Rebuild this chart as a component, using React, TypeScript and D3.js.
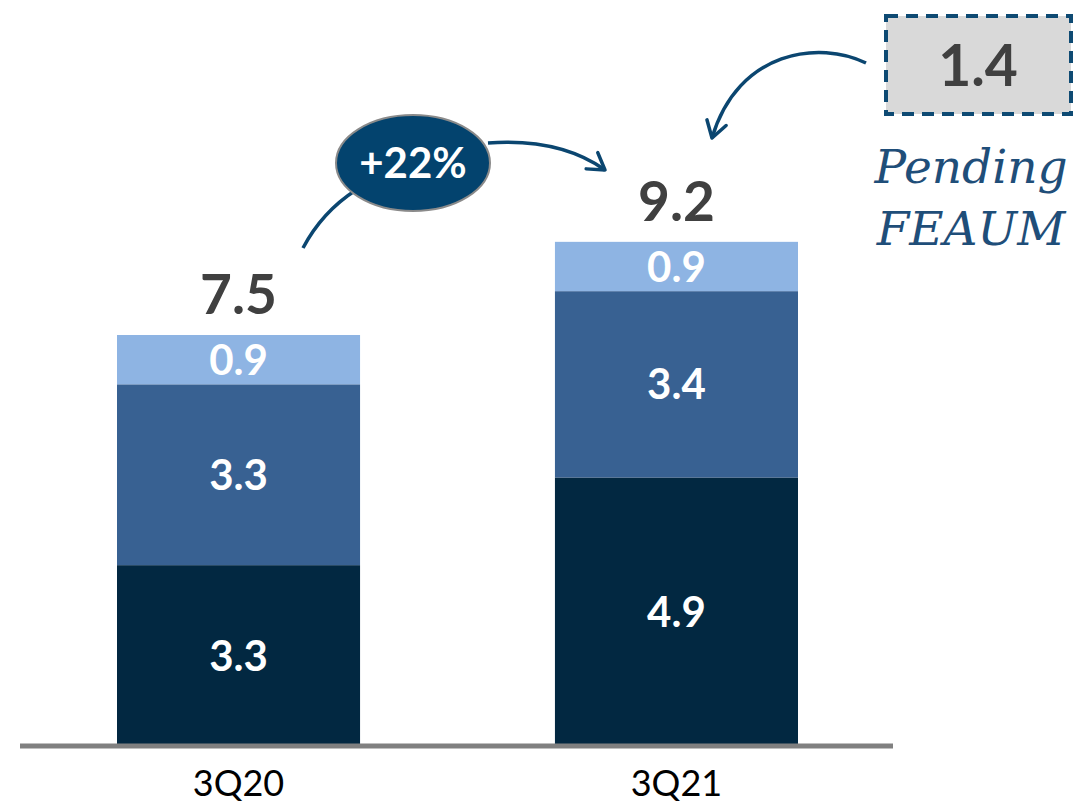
import React, { useEffect, useRef } from 'react'
import * as d3 from 'd3'

const categories = ['3Q20', '3Q21']
const segments = ['base', 'middle', 'top']
const baseValues = [3.3, 4.9]
const middleValues = [3.3, 3.4]
const topValues = [0.9, 0.9]
const totals = [7.5, 9.2]
const growthLabel = '+22%'
const pendingValue = 1.4
const pendingLines = ['Pending', 'FEAUM']

const colors = ['#022841', '#386192', '#8EB4E3']

export default function App() {
  const svgRef = useRef<SVGSVGElement>(null)

  const W = 1073
  const H = 804
  const baseline = 746

  useEffect(() => {
    const svg = d3.select(svgRef.current)
    svg.selectAll('*').remove()

    const x = d3.scaleBand().domain(categories).range([117, 798]).paddingInner(0.445).paddingOuter(0)
    const y = d3.scaleLinear().domain([0, 10]).range([baseline, 198])
    const bw = x.bandwidth()

    const rows = categories.map((c, i) => ({ cat: c, base: baseValues[i], middle: middleValues[i], top: topValues[i] }))
    const stacked = d3.stack<any>().keys(segments)(rows)

    const arrowColor = '#0B4670'
    const defs = svg.append('defs')
    defs.append('marker')
      .attr('id', 'arrow')
      .attr('viewBox', '-20 -12 24 24')
      .attr('refX', 0).attr('refY', 0)
      .attr('markerWidth', 24).attr('markerHeight', 24)
      .attr('markerUnits', 'userSpaceOnUse')
      .attr('orient', 'auto')
      .append('path')
      .attr('d', 'M-16,-10 L0,0 L-16,10')
      .attr('fill', 'none')
      .attr('stroke', arrowColor)
      .attr('stroke-width', 3.5)
      .attr('stroke-linecap', 'round')
      .attr('stroke-linejoin', 'round')

    const g = svg.append('g')
    stacked.forEach((layer, li) => {
      g.append('g')
        .selectAll('rect')
        .data(layer)
        .join('rect')
        .attr('x', d => x(d.data.cat)!)
        .attr('width', bw)
        .attr('y', d => y(d[1]))
        .attr('height', d => y(d[0]) - y(d[1]))
        .attr('fill', colors[li])
    })

    // segment labels
    stacked.forEach(layer => {
      g.append('g')
        .selectAll('text')
        .data(layer)
        .join('text')
        .attr('x', d => x(d.data.cat)! + bw / 2)
        .attr('y', d => (y(d[0]) + y(d[1])) / 2)
        .attr('dy', '0.36em')
        .attr('text-anchor', 'middle')
        .attr('font-family', 'Lato, sans-serif')
        .attr('font-weight', 'bold')
        .attr('font-size', 42)
        .attr('fill', '#fff')
        .text(d => (d[1] - d[0]).toFixed(1))
    })

    // totals
    g.append('g')
      .selectAll('text')
      .data(totals)
      .join('text')
      .attr('x', (d, i) => x(categories[i])! + bw / 2)
      .attr('y', d => y(d) - 21)
      .attr('text-anchor', 'middle')
      .attr('font-family', 'Lato, sans-serif')
      .attr('font-weight', 'bold')
      .attr('font-size', 55)
      .attr('fill', '#404040')
      .text(d => d.toFixed(1))

    // axis
    svg.append('line')
      .attr('x1', 20).attr('x2', 893)
      .attr('y1', baseline).attr('y2', baseline)
      .attr('stroke', '#808080').attr('stroke-width', 5)

    svg.append('g')
      .selectAll('text')
      .data(categories)
      .join('text')
      .attr('x', d => x(d)! + bw / 2)
      .attr('y', 796)
      .attr('text-anchor', 'middle')
      .attr('font-family', 'Lato, sans-serif')
      .attr('font-size', 36)
      .attr('fill', '#000')
      .text(d => d)

    // growth arrows
    svg.append('path')
      .attr('d', 'M303,248 Q322,212 356,190')
      .attr('fill', 'none').attr('stroke', arrowColor).attr('stroke-width', 3.5)
    svg.append('path')
      .attr('d', 'M488,143 Q560,138 605,170')
      .attr('fill', 'none').attr('stroke', arrowColor).attr('stroke-width', 3.5)
      .attr('marker-end', 'url(#arrow)')

    svg.append('ellipse')
      .attr('cx', 413).attr('cy', 163).attr('rx', 77).attr('ry', 48)
      .attr('fill', '#03436E').attr('stroke', '#8a8a8a').attr('stroke-width', 2)
    svg.append('text')
      .attr('x', 413).attr('y', 163).attr('dy', '0.36em')
      .attr('text-anchor', 'middle')
      .attr('font-family', 'Lato, sans-serif').attr('font-weight', 'bold')
      .attr('font-size', 42).attr('fill', '#fff')
      .text(growthLabel)

    // pending box
    svg.append('path')
      .attr('d', 'M866,63 C820,40 738,50 712,138')
      .attr('fill', 'none').attr('stroke', arrowColor).attr('stroke-width', 3.5)
      .attr('marker-end', 'url(#arrow)')

    svg.append('rect')
      .attr('x', 886).attr('y', 16).attr('width', 185).attr('height', 98)
      .attr('fill', '#D9D9D9').attr('stroke', '#0E4A73').attr('stroke-width', 4)
      .attr('stroke-dasharray', '12 8')
    svg.append('text')
      .attr('x', 978).attr('y', 65).attr('dy', '0.36em')
      .attr('text-anchor', 'middle')
      .attr('font-family', 'Lato, sans-serif').attr('font-weight', 'bold')
      .attr('font-size', 57).attr('fill', '#404040')
      .text(pendingValue.toFixed(1))

    svg.append('g')
      .selectAll('text')
      .data(pendingLines)
      .join('text')
      .attr('x', 971)
      .attr('y', (d, i) => 183 + i * 62)
      .attr('text-anchor', 'middle')
      .attr('font-family', '"DejaVu Serif", serif')
      .attr('font-style', 'italic')
      .attr('font-size', 47)
      .attr('fill', '#1F4E79')
      .text(d => d)
  }, [])

  return (
    <svg
      ref={svgRef}
      width={W}
      height={H}
      style={{ position: 'absolute', left: 0, top: 0, background: '#fff' }}
    />
  )
}
